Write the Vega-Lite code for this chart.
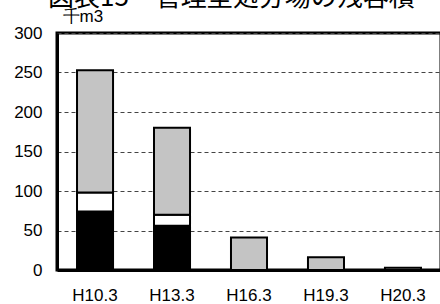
{
  "$schema": "https://vega.github.io/schema/vega-lite/v6.json",
  "width": 384,
  "height": 237,
  "autosize": {"type": "none"},
  "padding": {"left": 57, "top": 33, "right": 0, "bottom": 34},
  "background": "white",
  "title": {
    "text": "図表15　管理型処分場の残容積",
    "anchor": "start",
    "frame": "group",
    "dx": -9,
    "dy": 25,
    "offset": 0,
    "baseline": "alphabetic",
    "font": "Noto Sans CJK JP",
    "fontSize": 26,
    "fontWeight": "normal",
    "color": "black"
  },
  "config": {
    "view": {"stroke": "black", "strokeWidth": 3},
    "axis": {"labelFont": "Liberation Sans", "labelFontSize": 17, "labelColor": "black"}
  },
  "data": {
    "values": [
      {"year": "H10.3", "series": "系列1", "order": 1, "value": 74},
      {"year": "H10.3", "series": "系列2", "order": 2, "value": 24},
      {"year": "H10.3", "series": "系列3", "order": 3, "value": 155},
      {"year": "H13.3", "series": "系列1", "order": 1, "value": 56},
      {"year": "H13.3", "series": "系列2", "order": 2, "value": 14},
      {"year": "H13.3", "series": "系列3", "order": 3, "value": 110},
      {"year": "H16.3", "series": "系列3", "order": 3, "value": 41},
      {"year": "H19.3", "series": "系列3", "order": 3, "value": 16},
      {"year": "H20.3", "series": "系列3", "order": 3, "value": 3}
    ]
  },
  "mark": {"type": "bar", "stroke": "black", "strokeWidth": 2},
  "encoding": {
    "x": {
      "field": "year",
      "type": "nominal",
      "sort": null,
      "scale": {"paddingInner": 0.532, "paddingOuter": 0.26},
      "axis": {
        "title": null,
        "labelAngle": 0,
        "ticks": false,
        "labelPadding": 17,
        "domainColor": "black",
        "domainWidth": 3
      }
    },
    "y": {
      "field": "value",
      "type": "quantitative",
      "stack": "zero",
      "scale": {"domain": [0, 300]},
      "axis": {
        "values": [0, 50, 100, 150, 200, 250, 300],
        "title": "千m3",
        "titleAngle": 0,
        "titleX": 5,
        "titleY": -12,
        "titleAlign": "left",
        "titleBaseline": "alphabetic",
        "titleFont": "Liberation Sans",
        "titleFontSize": 17,
        "titleFontWeight": "normal",
        "titleColor": "black",
        "ticks": false,
        "labelPadding": 15,
        "domainColor": "black",
        "domainWidth": 3,
        "grid": true,
        "gridColor": "#444",
        "gridDash": [4, 3],
        "gridWidth": 1
      }
    },
    "color": {
      "field": "series",
      "type": "nominal",
      "scale": {"domain": ["系列1", "系列2", "系列3"], "range": ["black", "white", "#c4c4c4"]},
      "legend": null
    },
    "order": {"field": "order", "type": "quantitative"}
  }
}
